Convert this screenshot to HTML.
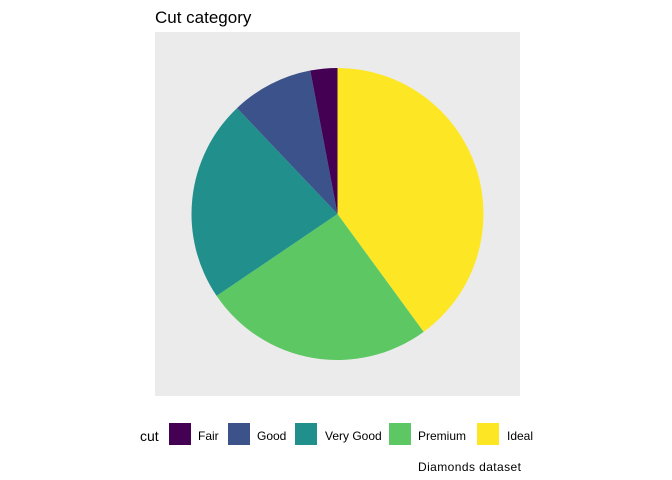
<!DOCTYPE html>
<html><head><meta charset="utf-8"><style>
body{margin:0;background:#fff;}
svg{display:block;font-family:"Liberation Sans",Arial,sans-serif;}
</style></head><body>
<svg id="chart" width="672" height="480">
<text x="155" y="23" font-size="17" fill="#000">Cut category</text>
<rect x="155" y="32" width="365" height="364" fill="#EBEBEB"/>
<g id="slices"></g>
<g id="legend">
<text x="140" y="441" font-size="14" fill="#000">cut</text>
</g>
<text x="418" y="471" font-size="12" fill="#000" textLength="103">Diamonds dataset</text>
</svg>
<script>
const categories = ["Fair","Good","Very Good","Premium","Ideal"];
const counts = [1610,4906,12082,13791,21551];
const colors = ["#440154","#3B528B","#21908C","#5DC863","#FDE725"];
const legendKeyX = [169,228,295,389,477];
const legendLabelX = [198,257,325,418,507];
const cx=337.5, cy=214, r=146;
const NS="http://www.w3.org/2000/svg";
const total=counts.reduce((a,b)=>a+b,0);
const slicesG=document.getElementById('slices');
function pt(a){return [cx+r*Math.sin(a), cy-r*Math.cos(a)];}
let start=0;
for(let i=categories.length-1;i>=0;i--){
  const ang=counts[i]/total*2*Math.PI;
  const [x1,y1]=pt(start),[x2,y2]=pt(start+ang);
  const p=document.createElementNS(NS,'path');
  p.setAttribute('d',`M${cx},${cy}L${x1},${y1}A${r},${r} 0 ${ang>Math.PI?1:0} 1 ${x2},${y2}Z`);
  p.setAttribute('fill',colors[i]);
  
  
  slicesG.appendChild(p);
  start+=ang;
}
const lg=document.getElementById('legend');
categories.forEach((c,i)=>{
  const rc=document.createElementNS(NS,'rect');
  rc.setAttribute('x',legendKeyX[i]);rc.setAttribute('y',423);
  rc.setAttribute('width',22);rc.setAttribute('height',22);
  rc.setAttribute('fill',colors[i]);
  
  
  lg.appendChild(rc);
  const t=document.createElementNS(NS,'text');
  t.setAttribute('x',legendLabelX[i]);t.setAttribute('y',440);
  t.setAttribute('font-size','12');t.textContent=c;
  
  
  lg.appendChild(t);
});
</script>
</body></html>
